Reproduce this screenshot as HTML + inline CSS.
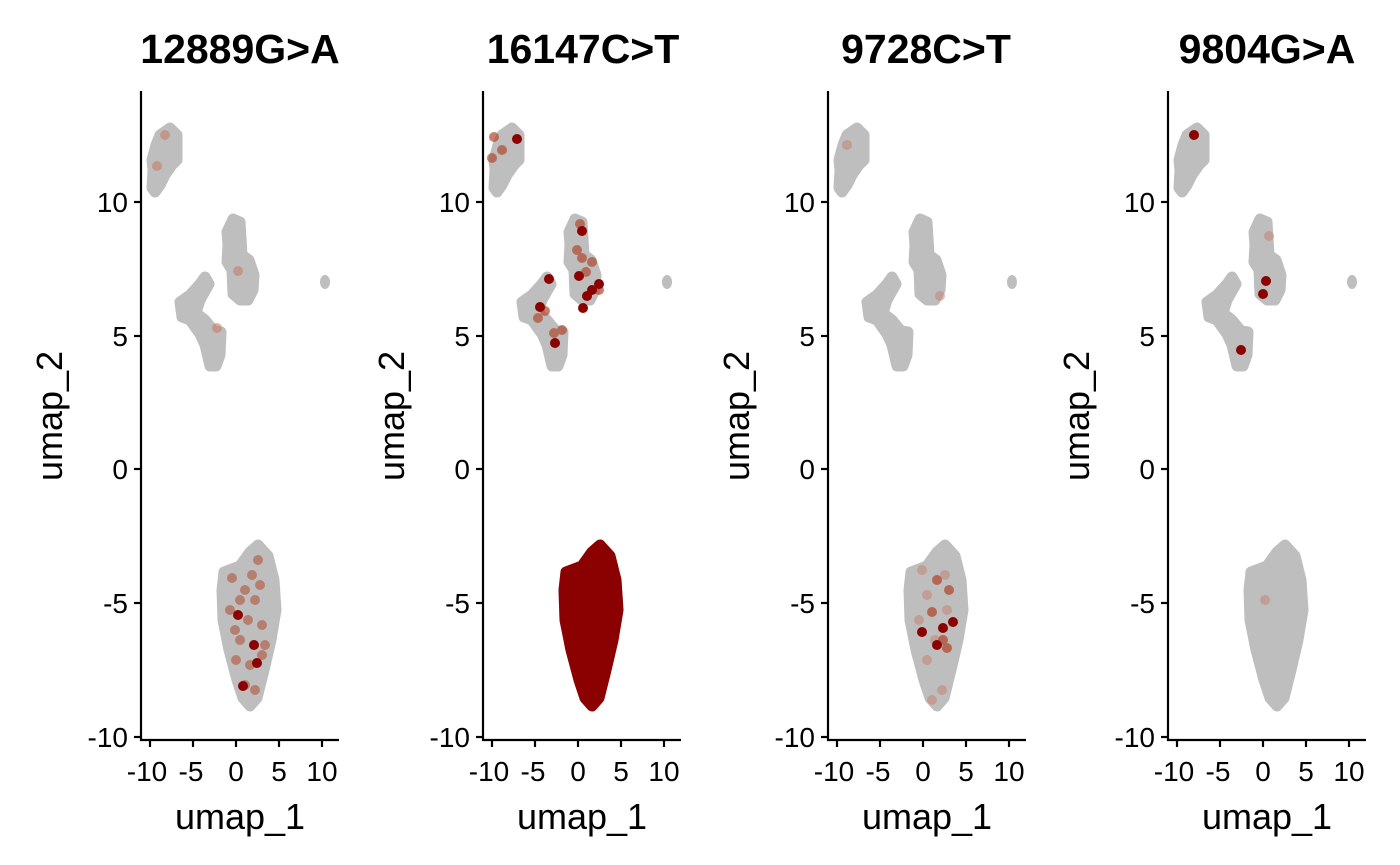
<!DOCTYPE html>
<html><head><meta charset="utf-8"><style>body{margin:0;background:#fff}svg{display:block}text{font-family:"Liberation Sans",Arial,sans-serif}</style></head>
<body>
<svg width="1400" height="865" viewBox="0 0 1400 865" xmlns="http://www.w3.org/2000/svg">
<defs>
<g id="clusters" fill="#bebebe" stroke="#bebebe" stroke-width="11" stroke-linejoin="round">
<polygon points="170,128 177,135 177,160 172,165 165,175 160,185 155,192 152,188 153,170 152,160 156,145 160,135"/>
<polygon points="233,219 240,222 242,255 249,260 254,275 253,290 248,300 240,300 233,294 232,270 227,262 228,245 227,232"/>
<polygon points="205,277 209,284 200,300 196,313 205,320 214,331 221,332 220,355 216,366 210,366 205,345 200,334 190,320 182,317 180,302 190,295 200,284"/>
<ellipse cx="325" cy="282" rx="5" ry="7" stroke="none"/>
<polygon points="258,545 268,556 274,580 276,610 271,640 264,670 257,698 250,706 243,698 237,680 229,650 223,620 222,590 224,572 240,566 250,552"/>
</g>
</defs>
<g id="p1">
<use href="#clusters"/>
<g fill="#c47e6c" opacity="0.6"><circle cx="165" cy="135" r="5"/><circle cx="157" cy="166" r="5"/><circle cx="238" cy="271" r="5"/><circle cx="217" cy="328" r="5"/></g>
<g fill="#b04a30" opacity="0.55"><circle cx="232" cy="578" r="5"/><circle cx="245" cy="590" r="5"/><circle cx="260" cy="585" r="5"/><circle cx="255" cy="600" r="5"/><circle cx="230" cy="610" r="5"/><circle cx="248" cy="620" r="5"/><circle cx="262" cy="625" r="5"/><circle cx="240" cy="640" r="5"/><circle cx="265" cy="645" r="5"/><circle cx="236" cy="660" r="5"/><circle cx="250" cy="665" r="5"/><circle cx="262" cy="655" r="5"/><circle cx="245" cy="685" r="5"/><circle cx="255" cy="690" r="5"/><circle cx="258" cy="560" r="5"/><circle cx="240" cy="600" r="5"/><circle cx="235" cy="630" r="5"/><circle cx="252" cy="575" r="5"/></g>
<g fill="#8b0000"><circle cx="238" cy="615" r="5"/><circle cx="254" cy="645" r="5"/><circle cx="257" cy="663" r="5"/><circle cx="243" cy="686" r="5"/></g>
</g>
<g transform="translate(342,0)">
<use href="#clusters"/>
<g fill="#b04a30" opacity="0.7"><circle cx="150" cy="158" r="5"/><circle cx="152" cy="137" r="5"/><circle cx="160" cy="150" r="5"/><circle cx="238" cy="224" r="5"/><circle cx="235" cy="250" r="5"/><circle cx="240" cy="258" r="5"/><circle cx="250" cy="262" r="5"/><circle cx="244" cy="272" r="5"/><circle cx="257" cy="290" r="5"/><circle cx="203" cy="311" r="5"/><circle cx="196" cy="318" r="5"/><circle cx="212" cy="333" r="5"/><circle cx="220" cy="330" r="5"/></g>
<g fill="#8b0000"><circle cx="175" cy="139" r="5"/><circle cx="240" cy="231" r="5"/><circle cx="237" cy="276" r="5"/><circle cx="250" cy="290" r="5"/><circle cx="245" cy="296" r="5"/><circle cx="257" cy="284" r="5"/><circle cx="241" cy="308" r="5"/><circle cx="207" cy="279" r="5"/><circle cx="198" cy="307" r="5"/><circle cx="213" cy="343" r="5"/></g>
<polygon points="258,545 268,556 274,580 276,610 271,640 264,670 257,698 250,706 243,698 237,680 229,650 223,620 222,590 224,572 240,566 250,552" fill="#8b0000" stroke="#8b0000" stroke-width="11" stroke-linejoin="round"/>
</g>
<g transform="translate(687,0)">
<use href="#clusters"/>
<g fill="#c47e6c" opacity="0.5"><circle cx="160" cy="145" r="5"/><circle cx="253" cy="296" r="5"/><circle cx="235" cy="570" r="5"/><circle cx="258" cy="575" r="5"/><circle cx="240" cy="595" r="5"/><circle cx="232" cy="620" r="5"/><circle cx="260" cy="610" r="5"/><circle cx="248" cy="640" r="5"/><circle cx="240" cy="660" r="5"/><circle cx="255" cy="690" r="5"/><circle cx="245" cy="700" r="5"/></g>
<g fill="#b04a30" opacity="0.75"><circle cx="250" cy="580" r="5"/><circle cx="262" cy="590" r="5"/><circle cx="245" cy="612" r="5"/><circle cx="256" cy="640" r="5"/><circle cx="260" cy="648" r="5"/></g>
<g fill="#8b0000"><circle cx="235" cy="632" r="5"/><circle cx="256" cy="628" r="5"/><circle cx="266" cy="622" r="5"/><circle cx="250" cy="645" r="5"/></g>
</g>
<g transform="translate(1027,0)">
<use href="#clusters"/>
<g fill="#c47e6c" opacity="0.5"><circle cx="242" cy="236" r="5"/><circle cx="238" cy="600" r="5"/></g>
<g fill="#8b0000"><circle cx="167" cy="135" r="5"/><circle cx="239" cy="281" r="5"/><circle cx="236" cy="294" r="5"/><circle cx="214" cy="350" r="5"/></g>
</g>
<g id="ax">
<g stroke="#000" stroke-width="2.2">
<line x1="141" y1="91" x2="141" y2="741"/><line x1="140" y1="740" x2="339" y2="740"/>
<line x1="134" y1="202" x2="141" y2="202"/><line x1="134" y1="336" x2="141" y2="336"/><line x1="134" y1="469" x2="141" y2="469"/><line x1="134" y1="603" x2="141" y2="603"/><line x1="134" y1="737" x2="141" y2="737"/>
<line x1="150" y1="740" x2="150" y2="747"/><line x1="193" y1="740" x2="193" y2="747"/><line x1="236" y1="740" x2="236" y2="747"/><line x1="279" y1="740" x2="279" y2="747"/><line x1="322" y1="740" x2="322" y2="747"/>
</g>
<g font-size="28" text-anchor="end" fill="#000">
<text x="128" y="212">10</text><text x="128" y="346">5</text><text x="128" y="479">0</text><text x="128" y="613">-5</text><text x="128" y="747">-10</text>
</g>
<g font-size="28" text-anchor="middle" fill="#000">
<text x="147" y="781">-10</text><text x="191" y="781">-5</text><text x="236" y="781">0</text><text x="279" y="781">5</text><text x="322" y="781">10</text>
</g>
<text x="240" y="829" font-size="36" text-anchor="middle">umap_1</text>
<text transform="translate(62,416) rotate(-90)" font-size="36" text-anchor="middle">umap_2</text>
</g>
<use href="#ax" transform="translate(342,0)"/>
<use href="#ax" transform="translate(687,0)"/>
<use href="#ax" transform="translate(1027,0)"/>
<g font-size="41" font-weight="bold" text-anchor="middle">
<text x="240" y="63">12889G&gt;A</text><text x="583" y="63">16147C&gt;T</text><text x="926" y="63">9728C&gt;T</text><text x="1267" y="63">9804G&gt;A</text>
</g>
</svg>
</body></html>
